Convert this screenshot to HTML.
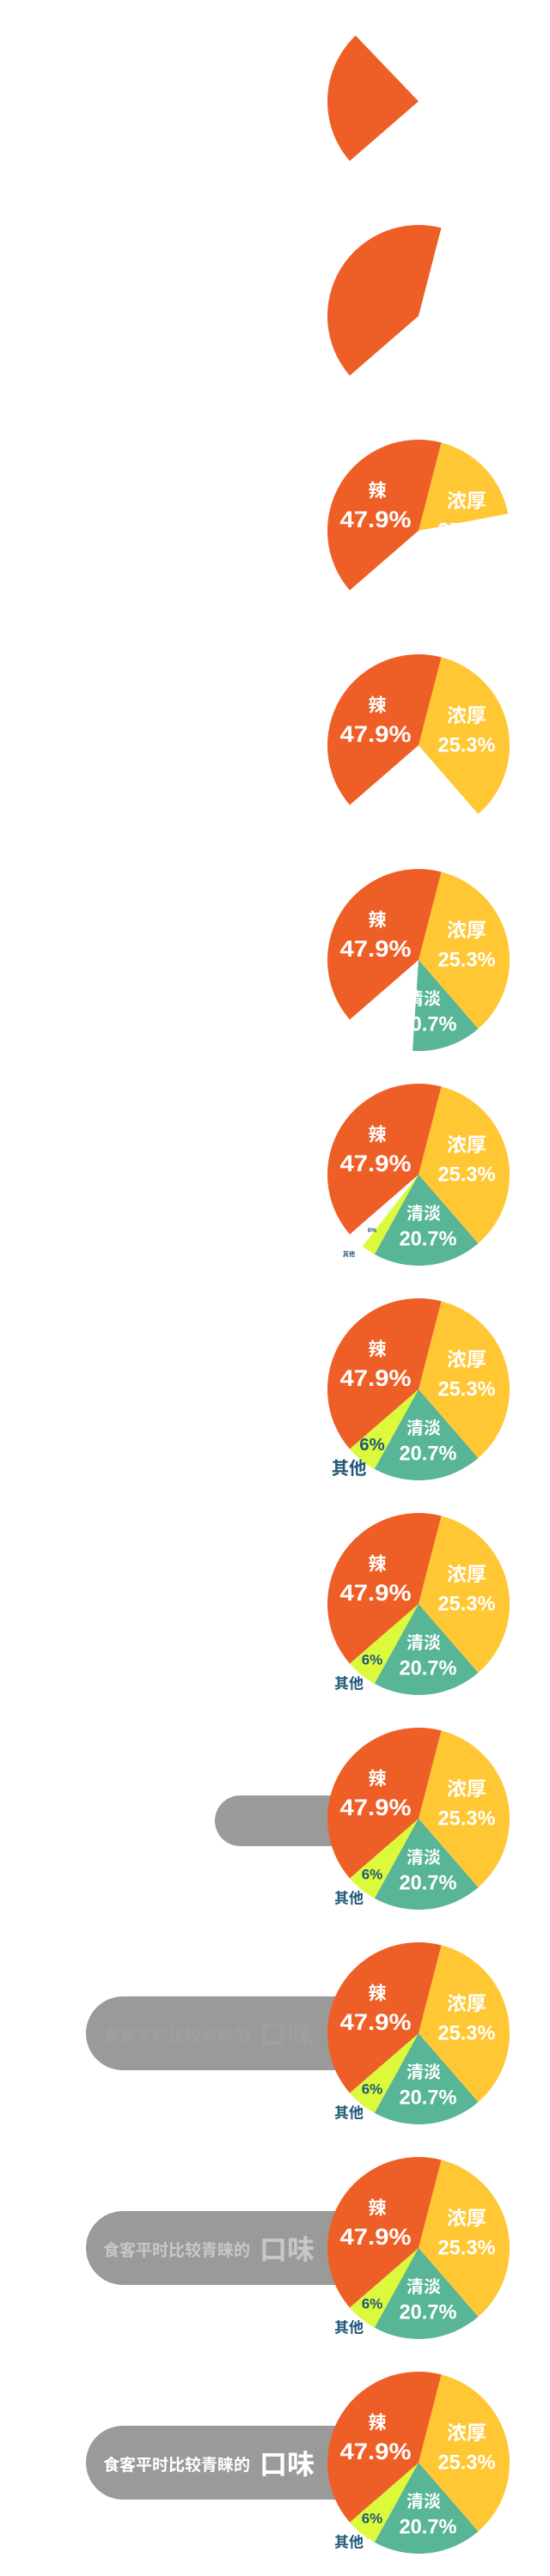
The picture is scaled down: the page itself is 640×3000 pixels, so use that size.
<!DOCTYPE html>
<html><head><meta charset="utf-8"><style>
html,body{margin:0;padding:0;background:#fff;}
svg{display:block;}
text{font-family:"Liberation Sans","Noto Sans CJK SC",sans-serif;font-weight:bold;}
</style></head><body>
<svg id="chart" width="640" height="3000" viewBox="0 0 640 3000" xmlns="http://www.w3.org/2000/svg"></svg>
<script>
// clockwise order starting from top-right boundary
const categories = ['浓厚', '清淡', '其他', '辣'];
const shares = [34.6, 19.4, 5.6, 40.4];
const valueLabels = ['25.3%', '20.7%', '6%', '47.9%'];
const startAngle = 14.5;
// per-frame reveal fraction of each slice
const reveal = [
  [0, 0, 0, 0.6],
  [0, 0, 0, 1],
  [0.52, 0, 0, 1],
  [1, 0, 0, 1],
  [1, 0.64, 0, 1],
  [1, 1, 0.45, 1],
  [1, 1, 1, 1],
  [1, 1, 1, 1],
  [1, 1, 1, 1],
  [1, 1, 1, 1],
  [1, 1, 1, 1],
  [1, 1, 1, 1]
];
const otherLabelScale = [0, 0, 0, 0, 0, 0.42, 1.2, 1, 1, 1, 1, 1];
const pillStage = [0, 0, 0, 0, 0, 0, 0, 0, 1, 2, 2, 2];
const titleOpacity = [0, 0, 0, 0, 0, 0, 0, 0, 0, 0.06, 0.45, 1];

const svg = document.getElementById('chart');
const NS = 'http://www.w3.org/2000/svg';
const colors = ['#FFC733', '#58B596', '#DCF93C', '#EE5F28'];
const frameH = 250, cx = 487, cyRel = 118, R = 106;
const names = ['nongHou', 'qingDan', 'qiTa', 'la'];
// label layout offsets from center [name offset, value offset]
const lblOff = [[[56, -35], [56, 0]], [[6, 46], [11, 75]], [[-81, 93], [-54, 65]], [[-48, -46], [-50, -13]]];

function mk(tag, attrs, parent) {
  const e = document.createElementNS(NS, tag);
  for (const k in attrs) e.setAttribute(k, attrs[k]);
  parent.appendChild(e);
  return e;
}
function pt(cy, a) {
  const r = a * Math.PI / 180;
  return [cx + R * Math.sin(r), cy - R * Math.cos(r)];
}
function arc(cy, a0, a1) {
  const p0 = pt(cy, a0), p1 = pt(cy, a1);
  const large = (a1 - a0) > 180 ? 1 : 0;
  return `M${cx},${cy} L${p0[0]},${p0[1]} A${R},${R} 0 ${large} 1 ${p1[0]},${p1[1]} Z`;
}

for (let f = 0; f < reveal.length; f++) {
  const top = f * frameH, cy = top + cyRel;
  const g = mk('g', {}, svg);
  
  

  // pill
  if (pillStage[f] > 0) {
    const big = pillStage[f] === 2;
    const y0 = top + (big ? 75 : 91), h = big ? 86 : 59, x0 = big ? 100 : 250;
    const pill = mk('rect', {x: x0, y: y0, width: cx - x0, height: h, rx: h / 2, ry: h / 2, fill: '#9a9a9a'}, g);
    
    
    if (big) {
      const t = mk('text', {x: 120, y: top + 127, 'font-size': 19, fill: '#fff', 'fill-opacity': titleOpacity[f]}, g);
      t.textContent = '食客平时比较青睐的';
      
      
      const t2 = mk('text', {x: 302, y: top + 131, 'font-size': 32, fill: '#fff', 'fill-opacity': titleOpacity[f]}, g);
      t2.textContent = '口味';
      
      
    }
  }

  let a = startAngle;
  for (let i = 0; i < categories.length; i++) {
    const span = shares[i] / 100 * 360;
    const fr = reveal[f][i];
    if (fr > 0) {
      const d = arc(cy, a, a + span * fr);
      const s = mk('path', {d: d, fill: colors[i]}, g);
      
      
      if (i !== 2 && f >= 2) {
        const cid = 'clip-' + f + '-' + i;
        const cp = mk('clipPath', {id: cid}, g);
        mk('path', {d: d}, cp);
        const lg = mk('g', {'clip-path': `url(#${cid})`}, g);
        const big = i === 3;
        const n = mk('text', {x: cx + lblOff[i][0][0], y: cy + lblOff[i][0][1], 'text-anchor': 'middle', 'dominant-baseline': 'central', 'font-size': big ? 21 : (i === 0 ? 23 : 20), fill: '#fff'}, lg);
        n.textContent = categories[i];
        
        
        const v = mk('text', {x: cx + lblOff[i][1][0], y: cy + lblOff[i][1][1], 'text-anchor': 'middle', 'dominant-baseline': 'central', 'font-size': big ? 27 : 24, fill: '#fff', textLength: big ? 83 : 67, lengthAdjust: 'spacingAndGlyphs'}, lg);
        v.textContent = valueLabels[i];
        
        
      }
    }
    a += span;
  }

  const sc = otherLabelScale[f];
  if (sc > 0) {
    const p1 = [cx + lblOff[2][1][0], cy + lblOff[2][1][1]];
    const v = mk('text', {x: 0, y: 0, 'text-anchor': 'middle', 'dominant-baseline': 'central', 'font-size': 17, fill: '#1f5878', transform: `translate(${p1[0]},${p1[1]}) scale(${sc})`}, g);
    v.textContent = valueLabels[2];
    
    
    const p2 = [cx + lblOff[2][0][0], cy + lblOff[2][0][1]];
    const n = mk('text', {x: 0, y: 0, 'text-anchor': 'middle', 'dominant-baseline': 'central', 'font-size': 17, fill: '#1f5878', transform: `translate(${p2[0]},${p2[1]}) scale(${sc})`}, g);
    n.textContent = categories[2];
    
    
  }
}
</script>
</body></html>
